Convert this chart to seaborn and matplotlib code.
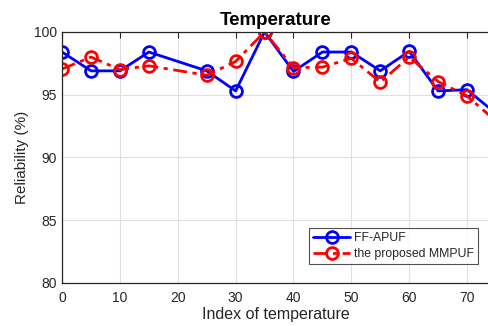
import pandas as pd
import numpy as np
import seaborn as sns
import matplotlib.pyplot as plt

# values
idx = [0, 5, 10, 15, 25, 30, 35, 40, 45, 50, 55, 60, 65, 70, 75]
ff_apuf = [98.4, 96.9, 96.9, 98.4, 96.9, 95.3, 100.0, 96.85, 98.4, 98.4, 96.9, 98.45, 95.3, 95.4, 93.5]
mmpuf = [97.05, 98.0, 97.0, 97.3, 96.55, 97.65, 100.0, 97.15, 97.2, 97.9, 96.0, 98.0, 96.05, 94.9, 92.9]

df = pd.DataFrame({"idx": idx, "FF-APUF": ff_apuf, "the proposed MMPUF": mmpuf})

sns.set_style("white")
plt.rcParams['font.family'] = ['Liberation Sans', 'DejaVu Sans']

fig = plt.figure(figsize=(4.89, 3.26), dpi=100)
ax = fig.add_axes([0.127, 0.132, 0.873, 0.770])

sns.lineplot(data=df, x="idx", y="FF-APUF", ax=ax, color="#0000ff", lw=2,
             marker="o", ms=8.5, mfc="none", mec="#0000ff", mew=2, label="FF-APUF")
sns.lineplot(data=df, x="idx", y="the proposed MMPUF", ax=ax, color="#ff0000", lw=2,
             dashes=(5, 2, 1.5, 2), marker="o", ms=8.5, mfc="none", mec="#ff0000", mew=2,
             label="the proposed MMPUF")

ax.set_xlim(0, 73.8)
ax.set_ylim(80, 100)
ax.set_xticks(range(0, 80, 10))
ax.set_yticks(range(80, 101, 5))
ax.grid(True, color="#e0e0e0", lw=0.8)
ax.tick_params(direction="in", length=4, width=0.8, labelsize=10, colors="#262626",
               top=True, right=False, labelcolor="#262626")
ax.tick_params(axis="x", pad=6)
for s in ["left", "bottom", "top"]:
    ax.spines[s].set_color("#262626")
    ax.spines[s].set_linewidth(0.9)
ax.spines["right"].set_visible(False)

ax.set_xlabel("Index of temperature", fontsize=11.5, color="#262626", labelpad=1)
ax.set_ylabel("Reliability (%)", fontsize=11, color="#262626", labelpad=4)
ax.set_title("Temperature", fontsize=13.5, fontweight="bold", pad=5, color="black")

leg = ax.legend(loc="lower right", bbox_to_anchor=(0.974, 0.074), borderaxespad=0,
                fontsize=8.8, frameon=True, fancybox=False, handlelength=3.0,
                borderpad=0.35, labelspacing=0.3, handletextpad=0.3)
leg.get_frame().set_edgecolor("#262626")
leg.get_frame().set_linewidth(0.8)

fig.savefig("out.png", dpi=100)
